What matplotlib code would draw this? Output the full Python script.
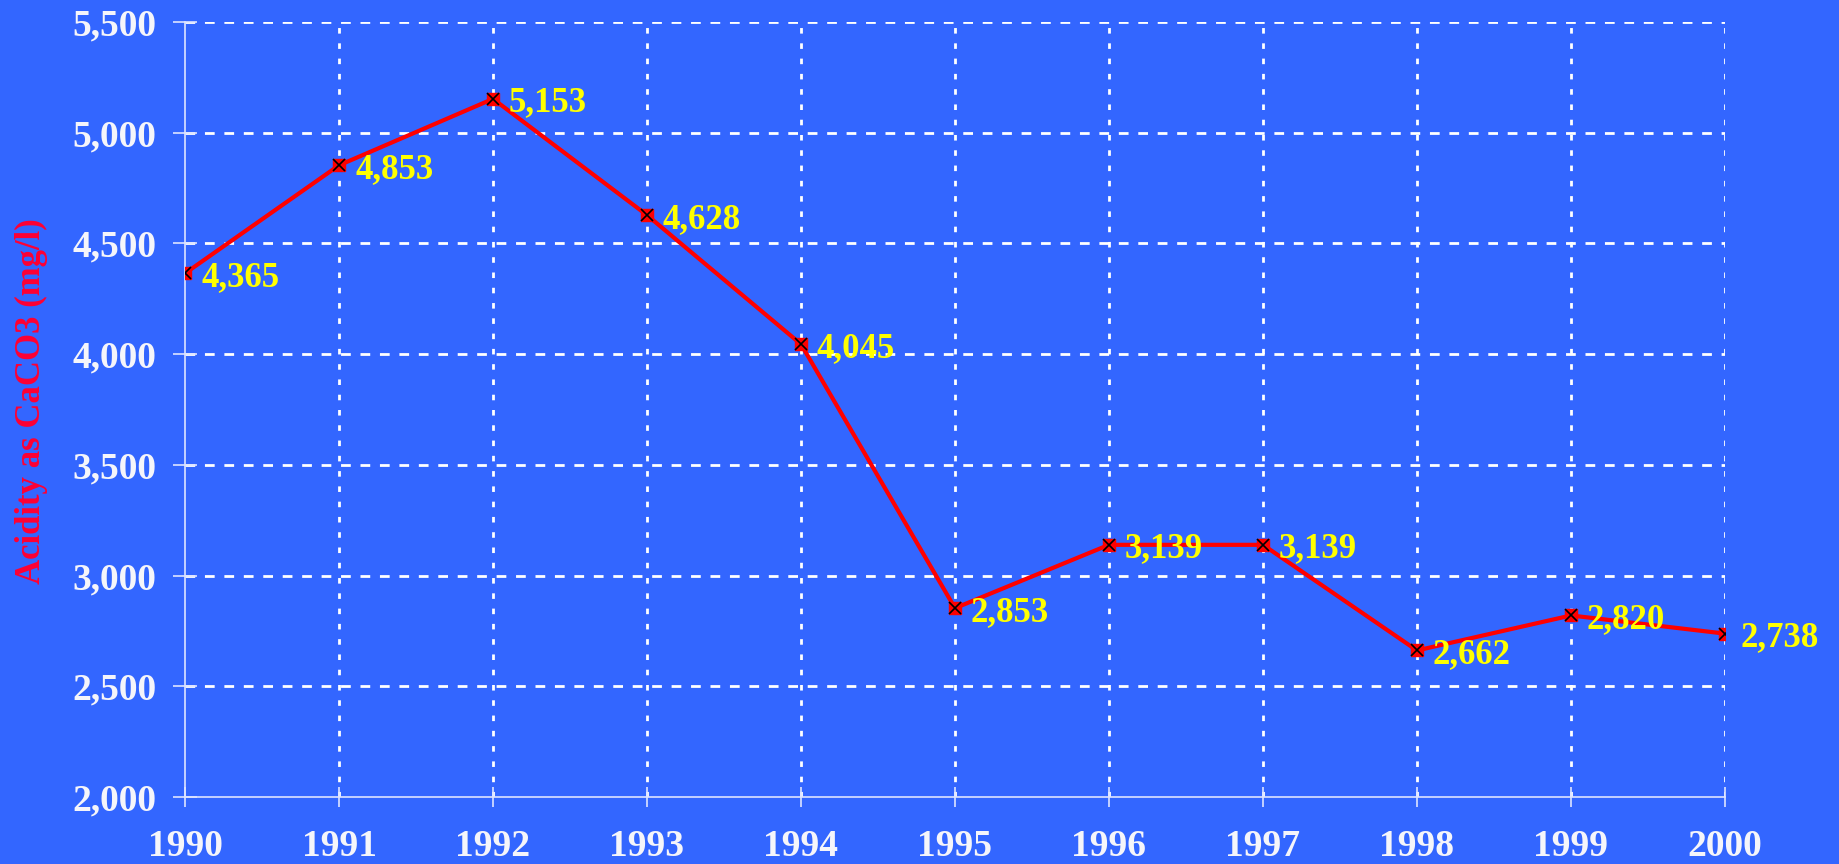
import numpy as np
import matplotlib.pyplot as plt
from matplotlib.ticker import FuncFormatter

# data
years = [1990, 1991, 1992, 1993, 1994, 1995, 1996, 1997, 1998, 1999, 2000]
acidity = [4365, 4853, 5153, 4628, 4045, 2853, 3139, 3139, 2662, 2820, 2738]
y_ticks = [2000, 2500, 3000, 3500, 4000, 4500, 5000, 5500]

bg = '#3366FF'
plt.rcParams['font.family'] = ['Liberation Serif', 'DejaVu Serif']
plt.rcParams['font.weight'] = 'bold'

fig = plt.figure(figsize=(18.39, 8.64), dpi=100, facecolor=bg)
ax = fig.add_axes([0.1006, 0.0775, 0.8374, 0.897])
ax.set_facecolor(bg)

ax.plot(years, acidity, color='red', lw=3, zorder=3)
ax.plot(years, acidity, ls='none', marker='s', ms=9, mfc='red', mec='red', zorder=4)
ax.plot(years, acidity, ls='none', marker='x', ms=8, mec='black', mew=1.2, zorder=5)

for x, y in zip(years, acidity):
    ax.annotate(f'{y:,}', (x, y), xytext=(16, 0), textcoords='offset pixels',
                color='#FFFF00', fontsize=25, fontweight='bold',
                ha='left', va='center_baseline', zorder=6)

ax.set_xlim(1990, 2000)
ax.set_ylim(2000, 5500)
ax.set_xticks(years)
ax.set_yticks(y_ticks)
ax.yaxis.set_major_formatter(FuncFormatter(lambda v, p: f'{int(v):,}'))

# grid: dashed horizontal, dotted vertical
for yt in y_ticks[1:]:
    ax.axhline(yt, color='white', lw=2, ls=(0, (3.5, 3.5)), zorder=1)
for xt in years[1:]:
    ax.axvline(xt, color='white', lw=2, ls=(0, (2, 3.5)), zorder=1)

for s in ['top', 'right']:
    ax.spines[s].set_visible(False)
for s in ['left', 'bottom']:
    ax.spines[s].set_color('#DDE4FF')
    ax.spines[s].set_linewidth(1.2)

ax.tick_params(axis='both', colors='#DDE4FF', direction='inout', width=1.2,
               labelcolor='#F5F5FA', labelsize=27)
ax.tick_params(axis='x', length=14, pad=16)
ax.tick_params(axis='y', length=17, pad=12)

ax.set_ylabel('Acidity as CaCO3 (mg/l)', color='#FF0033', fontsize=25, fontweight='bold')
ax.yaxis.set_label_coords(-0.089, 0.511)

fig.savefig('out.png', dpi=100, facecolor=bg)
